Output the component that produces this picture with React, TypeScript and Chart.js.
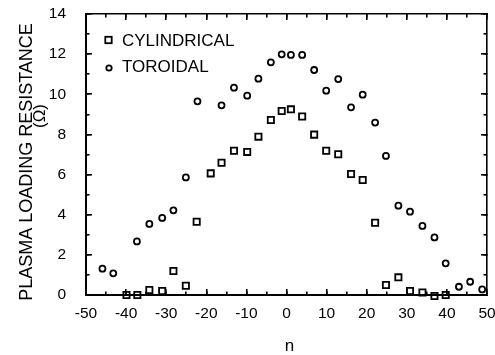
import React, { useEffect, useRef } from 'react';
import { Chart, registerables } from 'chart.js';

Chart.register(...registerables);

// ---- data ----
const nCylindrical = [-39.9, -37.2, -34.2, -31.0, -28.2, -25.1, -22.4, -18.9, -16.2, -13.1, -9.8, -7.0, -3.9, -1.2, 1.1, 3.9, 6.9, 9.9, 12.9, 16.1, 19.0, 22.1, 24.8, 27.9, 30.8, 33.9, 36.9, 39.7];
const cylindrical = [0.0, 0.0, 0.25, 0.2, 1.2, 0.46, 3.65, 6.06, 6.59, 7.19, 7.13, 7.89, 8.72, 9.17, 9.25, 8.89, 7.99, 7.19, 7.01, 6.03, 5.73, 3.6, 0.5, 0.88, 0.2, 0.13, -0.05, 0.0];

const nToroidal = [-45.9, -43.2, -37.3, -34.2, -31.0, -28.2, -25.1, -22.2, -16.2, -13.1, -9.8, -7.0, -3.9, -1.2, 1.1, 3.9, 6.9, 9.9, 12.9, 16.1, 19.0, 22.1, 24.8, 27.9, 30.8, 33.9, 36.9, 39.7, 43.0, 45.8, 48.8];
const toroidal = [1.31, 1.08, 2.67, 3.54, 3.84, 4.22, 5.86, 9.65, 9.45, 10.33, 9.93, 10.78, 11.59, 11.99, 11.96, 11.96, 11.21, 10.18, 10.76, 9.35, 9.98, 8.59, 6.93, 4.45, 4.15, 3.44, 2.87, 1.58, 0.41, 0.66, 0.28];

const xMin = -50;
const xMax = 50;
const xMajorStep = 10;
const xMinorStep = 5;
const yMin = 0;
const yMax = 14;
const yMajorStep = 2;
const yMinorStep = 1;

const legendLabels = ['CYLINDRICAL', 'TOROIDAL'];
const yTitleLines = ['PLASMA LOADING RESISTANCE', '(\u03A9)'];
const xTitle = 'n';

const FONT = '"Liberation Sans", Arial, Helvetica, sans-serif';
const BLACK = '#000';

const textPlugin = {
  id: 'legendAndTitles',
  afterDraw(chart: any) {
    const ctx: CanvasRenderingContext2D = chart.ctx;
    const a = chart.chartArea;
    const L = a.left;
    const T = a.top;
    ctx.save();
    ctx.fillStyle = BLACK;
    ctx.strokeStyle = BLACK;

    // legend
    const lx = L + 22.5;
    const ly1 = T + 26;
    const ly2 = T + 52;
    ctx.lineWidth = 1.8;
    ctx.strokeRect(lx - 3.2, ly1 - 3.2, 6.4, 6.4);
    ctx.beginPath();
    ctx.arc(lx + 0.5, ly2 + 2, 2.7, 0, Math.PI * 2);
    ctx.stroke();
    ctx.font = `17px ${FONT}`;
    ctx.textAlign = 'left';
    ctx.textBaseline = 'middle';
    ctx.fillText(legendLabels[0], lx + 13.5, ly1 + 1);
    ctx.fillText(legendLabels[1], lx + 13.5, ly2 + 1);

    // y title
    ctx.save();
    ctx.translate(27, 162);
    ctx.rotate(-Math.PI / 2);
    ctx.textAlign = 'center';
    ctx.font = `18px ${FONT}`;
    ctx.fillText(yTitleLines[0], 0, 0);
    ctx.restore();
    ctx.save();
    ctx.translate(40, 116);
    ctx.rotate(-Math.PI / 2);
    ctx.textAlign = 'center';
    ctx.font = `17px ${FONT}`;
    ctx.fillText(yTitleLines[1], 0, 0);
    ctx.restore();

    // x title
    ctx.font = `17px ${FONT}`;
    ctx.textAlign = 'center';
    ctx.fillText(xTitle, (a.left + a.right) / 2 + 3, 346);
    ctx.restore();
  },
};

// helper for the tick-only axes (inward tick marks, no labels)
function tickAxis(position: string, min: number, max: number, step: number, len: number, withBorder: boolean, borderWidth: number) {
  const horizontal = position === 'top' || position === 'bottom';
  return {
    type: 'linear',
    position,
    min,
    max,
    weight: -1,
    border: { display: withBorder, color: BLACK, width: borderWidth },
    grid: {
      display: true,
      drawOnChartArea: false,
      drawTicks: true,
      tickLength: -len,
      tickWidth: 1.6,
      tickColor: BLACK,
      color: BLACK,
      lineWidth: 1.6,
    },
    ticks: { display: false, stepSize: step, autoSkip: false },
    afterFit: (s: any) => {
      if (horizontal) s.height = 0;
      else s.width = 0;
      s.paddingLeft = 0;
      s.paddingRight = 0;
      s.paddingTop = 0;
      s.paddingBottom = 0;
    },
  };
}

export default function App() {
  const ref = useRef<HTMLCanvasElement | null>(null);
  useEffect(() => {
    document.body.style.margin = '0';
    const canvas = ref.current;
    if (!canvas) return;
    const chart = new Chart(canvas, {
      type: 'scatter',
      data: {
        datasets: [
          {
            label: legendLabels[0],
            data: nCylindrical.map((n, i) => ({ x: n, y: cylindrical[i] })),
            pointStyle: 'rect',
            pointRadius: 4.4,
            pointBorderWidth: 1.8,
            borderColor: BLACK,
            backgroundColor: 'rgba(0,0,0,0)',
            pointBackgroundColor: 'rgba(0,0,0,0)',
            pointBorderColor: BLACK,
            clip: false,
          },
          {
            label: legendLabels[1],
            data: nToroidal.map((n, i) => ({ x: n, y: toroidal[i] })),
            pointStyle: 'circle',
            pointRadius: 3,
            pointBorderWidth: 1.8,
            borderColor: BLACK,
            backgroundColor: 'rgba(0,0,0,0)',
            pointBackgroundColor: 'rgba(0,0,0,0)',
            pointBorderColor: BLACK,
            clip: false,
          },
        ],
      },
      options: {
        responsive: false,
        animation: false,
        devicePixelRatio: 1,
        layout: { padding: { top: 14, right: 0, left: 0, bottom: 0 } },
        plugins: {
          legend: { display: false },
          tooltip: { enabled: false },
          title: { display: false },
        },
        scales: {
          x: {
            type: 'linear',
            position: 'bottom',
            min: xMin,
            max: xMax,
            weight: 1,
            border: { display: true, color: BLACK, width: 2 },
            grid: {
              display: true,
              drawOnChartArea: false,
              drawTicks: true,
              tickLength: -6,
              tickWidth: 1.6,
              tickColor: BLACK,
              color: BLACK,
              lineWidth: 1.6,
            },
            ticks: {
              stepSize: xMajorStep,
              color: BLACK,
              font: { size: 15.5, family: FONT },
              padding: 15,
              maxRotation: 0,
              autoSkip: false,
            },
            afterFit: (s: any) => {
              s.height = 60;
              s.paddingLeft = 0;
              s.paddingRight = 8;
            },
          },
          xMinor: tickAxis('bottom', xMin, xMax, xMinorStep, 3.5, false, 0),
          xTop: tickAxis('top', xMin, xMax, xMajorStep, 6, true, 1.6),
          xTopMinor: { ...tickAxis('top', xMin, xMax, xMinorStep, 3.5, false, 0), weight: -2 },
          y: {
            type: 'linear',
            position: 'left',
            min: yMin,
            max: yMax,
            weight: 1,
            border: { display: true, color: BLACK, width: 2 },
            grid: {
              display: true,
              drawOnChartArea: false,
              drawTicks: true,
              tickLength: -6,
              tickWidth: 1.6,
              tickColor: BLACK,
              color: BLACK,
              lineWidth: 1.6,
            },
            ticks: {
              stepSize: yMajorStep,
              color: BLACK,
              font: { size: 15.5, family: FONT },
              padding: 26,
            },
            afterFit: (s: any) => {
              s.width = 86;
              s.paddingTop = 0;
              s.paddingBottom = 0;
            },
          },
          yMinor: tickAxis('left', yMin, yMax, yMinorStep, 3.5, false, 0),
          yRight: tickAxis('right', yMin, yMax, yMajorStep, 6, true, 1.6),
          yRightMinor: { ...tickAxis('right', yMin, yMax, yMinorStep, 3.5, false, 0), weight: -2 },
        } as any,
      },
      plugins: [textPlugin],
    } as any);
    return () => chart.destroy();
  }, []);
  return (
    <div style={{ position: 'fixed', left: 0, top: 0, width: 495, height: 355, background: '#fff' }}>
      <canvas ref={ref} width={495} height={355} />
    </div>
  );
}
